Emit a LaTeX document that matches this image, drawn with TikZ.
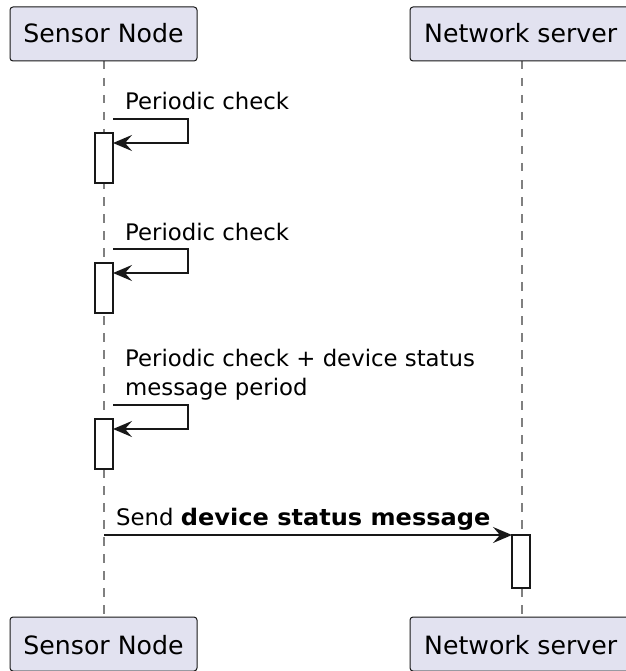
\documentclass[tikz,border=0pt]{standalone}
\usepackage{fontspec}
\setmainfont{DejaVu Sans}
\usetikzlibrary{arrows.meta}
\definecolor{partfill}{HTML}{E2E2F0}
\definecolor{ink}{HTML}{181818}
\tikzset{
  x=1pt, y=-1pt,
  participant/.style={draw=ink, line width=1pt, fill=partfill, rounded corners=3pt},
  parttext/.style={inner sep=0pt, font=\fontsize{25.2}{30}\selectfont},
  msgtext/.style={inner sep=0pt, anchor=base west, align=left, font=\fontsize{22.8}{29}\selectfont},
  lifeline/.style={draw=ink!55, line width=1.3pt, dash pattern=on 8.5pt off 8.5pt},
  actbox/.style={draw=ink, line width=1.6pt, fill=white},
  msg/.style={draw=ink, line width=1.6pt, -{Stealth[length=19pt, width=16pt, inset=7pt]}},
}
\begin{document}
\begin{tikzpicture}
\useasboundingbox (0,0) rectangle (625,671);
% lifelines
\coordinate (s1) at (104,61);
\coordinate (s2) at (104,617);
\coordinate (n1) at (522,61);
\coordinate (n2) at (522,617);
\draw[lifeline] (s1) -- (s2);
\draw[lifeline] (n1) -- (n2);
% participant heads
\draw[participant] (10,7) rectangle (197,61);
\node[parttext, anchor=base] (snt) at (103.5,43) {Sensor Node};
\draw[participant] (410,7) rectangle (640,61);
\node[parttext, anchor=base west] (nst) at (424,43) {Network server};
% participant feet
\draw[participant] (10,617) rectangle (197,671);
\node[parttext, anchor=base] (snb) at (103.5,654) {Sensor Node};
\draw[participant] (410,617) rectangle (640,671);
\node[parttext, anchor=base west] (nsb) at (424,654) {Network server};
% activation bars
\draw[actbox] (95,133) rectangle (113,183);
\draw[actbox] (95,263) rectangle (113,313);
\draw[actbox] (95,419) rectangle (113,469);
\draw[actbox] (512,535) rectangle (530,588);
% self messages
\coordinate (a1) at (113,119); \coordinate (b1) at (113,143);
\draw[msg] (a1) -- (188,119) -- (188,143) -- (b1);
\node[msgtext] (t1) at (125,110) {Periodic check};
\coordinate (a2) at (113,249); \coordinate (b2) at (113,273);
\draw[msg] (a2) -- (188,249) -- (188,273) -- (b2);
\node[msgtext] (t2) at (125,240) {Periodic check};
\coordinate (a3) at (113,405); \coordinate (b3) at (113,429);
\draw[msg] (a3) -- (188,405) -- (188,429) -- (b3);
\node[msgtext] (t3) at (125,395) {Periodic check + device status\\message period};
% message to server
\coordinate (m1) at (104,535); \coordinate (m2) at (512,535);
\draw[msg] (m1) -- (m2);
\node[msgtext] (t4) at (116,525) {Send \scalebox{1.055}[1]{\bfseries device status message}};
\end{tikzpicture}
\end{document}
